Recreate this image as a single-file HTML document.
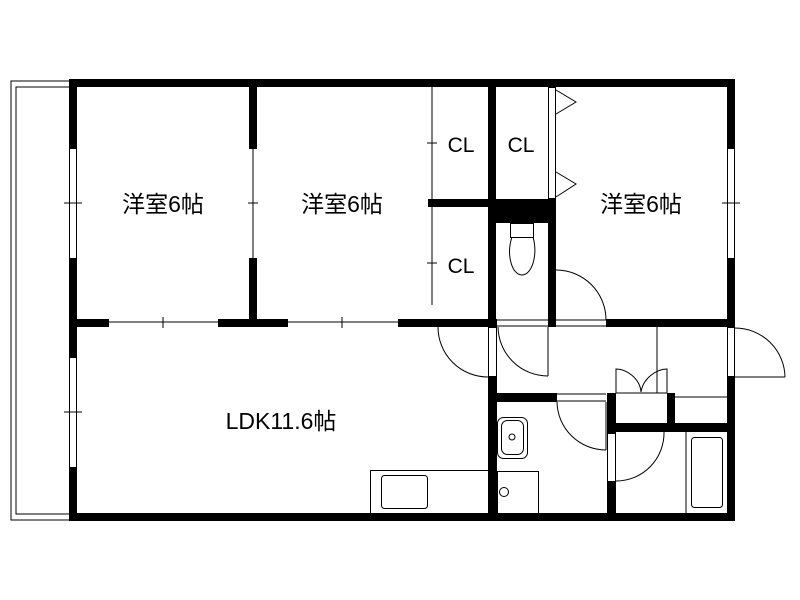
<!DOCTYPE html>
<html><head><meta charset="utf-8"><style>
html,body{margin:0;padding:0;background:#fff;width:800px;height:600px;overflow:hidden}
text{font-family:"Liberation Sans","Noto Sans CJK JP",sans-serif;fill:#000}
</style></head><body>
<svg width="800" height="600" viewBox="0 0 800 600" xmlns="http://www.w3.org/2000/svg">
<g fill="none" stroke="#000" stroke-width="1">
<polyline points="69,81 11,81 11,520 69,520"/>
<polyline points="69,87 16,87 16,514 69,514"/>
</g>
<g fill="#000">
<rect x="69" y="79" width="666" height="8"/>
<rect x="69" y="513" width="666" height="8"/>
<rect x="69" y="79" width="8" height="69"/>
<rect x="69" y="258" width="8" height="99"/>
<rect x="69" y="467" width="8" height="54"/>
<rect x="727" y="79" width="8" height="69"/>
<rect x="727" y="258" width="8" height="69"/>
<rect x="727" y="377" width="8" height="144"/>
<rect x="249" y="87" width="8" height="62"/>
<rect x="249" y="258" width="8" height="69"/>
<rect x="77" y="319" width="32" height="8"/>
<rect x="218" y="319" width="70" height="8"/>
<rect x="398" y="319" width="99" height="8"/>
<rect x="548" y="319" width="8" height="8"/>
<rect x="606" y="319" width="129" height="8"/>
<rect x="428" y="199" width="128" height="8"/>
<rect x="488" y="87" width="8" height="240"/>
<rect x="488" y="199" width="68" height="24"/>
<rect x="548" y="199" width="8" height="128"/>
<rect x="488" y="377" width="9" height="144"/>
<rect x="497" y="393" width="60" height="9"/>
<rect x="607" y="393" width="9" height="40"/>
<rect x="607" y="482" width="9" height="39"/>
<rect x="667" y="393" width="8" height="39"/>
<rect x="607" y="423" width="128" height="9"/>
</g>
<g fill="none" stroke="#000" stroke-width="1">
<rect x="69.5" y="148.5" width="7" height="110"/>
<rect x="69.5" y="357.5" width="7" height="110"/>
<rect x="727.5" y="148.5" width="7" height="110"/>
<line x1="64" y1="203" x2="82" y2="203"/><line x1="64" y1="412" x2="82" y2="412"/><line x1="722" y1="203" x2="740" y2="203"/>
<line x1="253" y1="149" x2="253" y2="258"/><line x1="248" y1="203" x2="258" y2="203"/>
<line x1="109" y1="322" x2="218" y2="322"/><line x1="163" y1="317" x2="163" y2="328"/>
<line x1="288" y1="322" x2="398" y2="322"/><line x1="342" y1="317" x2="342" y2="328"/>
<line x1="432" y1="87" x2="432" y2="199"/><line x1="432" y1="207" x2="432" y2="305"/>
<line x1="427" y1="143" x2="437" y2="143"/><line x1="427" y1="263" x2="437" y2="263"/>
<rect x="548.5" y="87.5" width="7" height="111"/>
<polyline points="556,90 576,102 556,114"/>
<polyline points="556,172 576,184 556,197"/>
<rect x="510.5" y="223.5" width="23" height="14"/>
<path d="M512,237 C506,255 512,275 522,275 C532,275 538,255 533,237"/>
<path d="M556,270 A50,50 0 0 1 606,320"/>
<line x1="556" y1="320" x2="606" y2="320"/><line x1="556" y1="326" x2="606" y2="326"/>
<line x1="497" y1="320" x2="548" y2="320"/><line x1="497" y1="326" x2="548" y2="326"/>
<rect x="488.5" y="327.5" width="8" height="49"/>
<path d="M438,327 A50,50 0 0 0 488,377"/>
<path d="M498,327 A50,50 0 0 0 548,376"/><line x1="548" y1="327" x2="548" y2="376"/>
<rect x="727.5" y="327.5" width="7" height="49"/>
<path d="M735,328 A50,50 0 0 1 785,377"/><line x1="735" y1="377" x2="785" y2="377"/>
<line x1="657" y1="327" x2="657" y2="393"/>
<path d="M616,393 L616,369 C626,369 640,378 641,392"/>
<path d="M667,393 L667,369 C657,369 643,378 641,392"/>
<line x1="616" y1="393" x2="667" y2="393"/>
<line x1="675" y1="397" x2="727" y2="397"/>
<line x1="557" y1="394" x2="606" y2="394"/><line x1="557" y1="401" x2="606" y2="401"/>
<path d="M557,402 A49,49 0 0 0 606,450"/><line x1="606" y1="402" x2="606" y2="450"/>
<rect x="607.5" y="433.5" width="8" height="48"/>
<path d="M664,432 A48,48 0 0 1 616,481"/>
<line x1="686" y1="432" x2="686" y2="513"/>
<rect x="691.5" y="437.5" width="31" height="70" rx="3"/>
<rect x="497.5" y="417.5" width="30" height="41" rx="6"/>
<rect x="501.5" y="420.5" width="22" height="34" rx="6"/>
<circle cx="512" cy="437" r="3"/>
<rect x="497.5" y="471.5" width="41" height="42"/>
<circle cx="504" cy="492" r="4.5"/>
<rect x="370.5" y="470.5" width="118" height="43"/>
<rect x="381.5" y="475.5" width="46" height="33" rx="3"/>
</g>
<g font-size="23">
<text x="163" y="212" text-anchor="middle">洋室6帖</text>
<text x="342" y="212" text-anchor="middle">洋室6帖</text>
<text x="641" y="212" text-anchor="middle">洋室6帖</text>
<text x="281" y="429" text-anchor="middle">LDK11.6帖</text>
</g>
<g font-size="21">
<text x="461" y="152" text-anchor="middle">CL</text>
<text x="521" y="152" text-anchor="middle">CL</text>
<text x="461" y="273" text-anchor="middle">CL</text>
</g>
</svg>
</body></html>
